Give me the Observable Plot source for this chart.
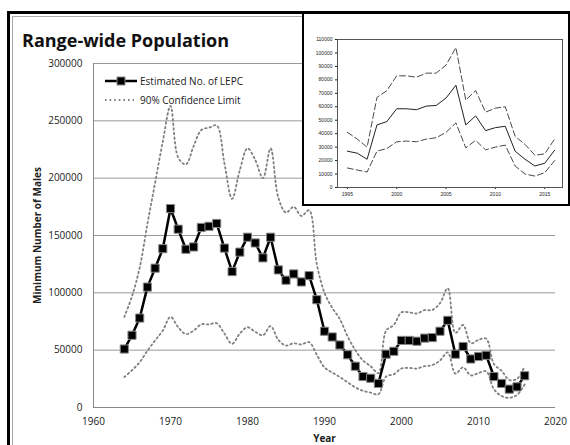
<!DOCTYPE html>
<html><head><meta charset="utf-8">
<script src="https://cdn.jsdelivr.net/npm/d3@7"></script>
<script src="https://cdn.jsdelivr.net/npm/@observablehq/plot@0.6"></script>
<style>
body{margin:0;background:#fff;}
#wrap{position:relative;width:570px;height:445px;overflow:hidden;background:#fff;font-family:"Open Sans",sans-serif;}
</style></head><body>
<div id="wrap">
  <div id="main" style="position:absolute;left:0;top:0"></div>
  <svg id="deco" width="570" height="445" style="position:absolute;left:0;top:0;overflow:visible"></svg>
  <div id="inset" style="position:absolute;left:302px;top:12px;width:264px;height:190px;border:2px solid #000;background:#fff"></div>
</div>
<script>
const title = "Range-wide Population";
const seriesLabels = ["Estimated No. of LEPC", "90% Confidence Limit"];
const xLabel = "Year";
const yLabel = "Minimum Number of Males";

const years = [1964,1965,1966,1967,1968,1969,1970,1971,1972,1973,1974,1975,1976,1977,1978,1979,
  1980,1981,1982,1983,1984,1985,1986,1987,1988,1989,1990,1991,1992,1993,1994,1995,1996,1997,1998,1999,
  2000,2001,2002,2003,2004,2005,2006,2007,2008,2009,2010,2011,2012,2013,2014,2015,2016];
const estimate = [51000,63000,78000,105000,121500,138500,173500,155500,138000,140000,157000,158000,160500,139000,118500,135500,
  148500,143500,130500,148500,120000,111000,116500,109500,115000,94000,66500,61500,54500,46000,36000,27000,25500,21000,46500,49000,
  58500,58500,57800,60500,61000,66500,76000,46500,53200,42300,44500,45500,27000,21000,16000,18000,27700];
const upper = [79000,97000,122000,160000,196000,232000,263000,218000,212000,228000,242000,244000,246000,213000,182000,207000,
  226000,216000,200000,226000,183000,170000,175000,167000,172000,125000,100000,87000,77000,62000,50000,41000,36000,30000,67000,72000,
  83000,83000,82000,85000,85000,91000,104000,65000,72000,56000,59000,60000,38000,32000,24000,25000,36000];
const lower = [26500,32500,39500,49500,58500,67000,79000,70000,64000,67000,72500,72500,73500,64500,55500,64500,
  70000,66000,63000,71000,59000,54000,56000,55000,57000,46000,35000,30500,26500,22000,17500,14500,13000,11500,27000,29000,
  34000,34500,34000,36000,37000,41000,48000,29500,35000,28000,30000,31500,16000,10000,8500,11000,20000];

const xTicks = [1960,1970,1980,1990,2000,2010,2020];
const yTicks = [0,50000,100000,150000,200000,250000,300000];
const insetStart = 1995;
const insetXTicks = [1995,2000,2005,2010,2015];
const insetYTicks = [0,10000,20000,30000,40000,50000,60000,70000,80000,90000,100000,110000];

const rows = years.map((year, i) => ({year, est: estimate[i], up: upper[i], lo: lower[i]}));
const insetRows = rows.filter(d => d.year >= insetStart);

const dotted = {curve: "catmull-rom", stroke: "#808080", strokeWidth: 1.8, strokeDasharray: "1.6 3"};

const main = Plot.plot({
  width: 570, height: 445,
  marginLeft: 93, marginRight: 15, marginTop: 63, marginBottom: 38,
  style: {background: "transparent", fontFamily: "Open Sans", fontSize: "10px", color: "#222"},
  x: {domain: [1960, 2020], ticks: xTicks, tickFormat: "d", tickSize: 0, tickPadding: 10,
      label: xLabel, labelAnchor: "center", labelArrow: "none", labelOffset: 34},
  y: {domain: [0, 300000], ticks: yTicks, tickFormat: "d", tickSize: 0, tickPadding: 11,
      label: yLabel, labelAnchor: "center", labelArrow: "none", labelOffset: 60},
  marks: [
    Plot.gridY(yTicks.filter(v => v > 0), {stroke: "#999", strokeOpacity: 1}),
    Plot.ruleY([0], {stroke: "#888"}),
    Plot.ruleX([1960], {stroke: "#888"}),
    Plot.line(rows, {x: "year", y: "up", ...dotted}),
    Plot.line(rows, {x: "year", y: "lo", ...dotted}),
    Plot.line(rows, {x: "year", y: "est", stroke: "#000", strokeWidth: 2.5}),
    Plot.dot(rows, {x: "year", y: "est", symbol: "square", r: 4.6, fill: "#000", stroke: "#888", strokeWidth: 1})
  ]
});
d3.select(main).selectAll('[aria-label$="axis label"] text, [aria-label$="axis label"]').attr("font-weight", "bold");
document.getElementById("main").appendChild(main);

// decoration: frames, title, legend
const deco = d3.select("#deco");
deco.append("rect").attr("x", 8.5).attr("y", 12.5).attr("width", 620).attr("height", 520)
  .attr("fill", "none").attr("stroke", "#000").attr("stroke-width", 3);
deco.append("rect").attr("x", 12.5).attr("y", 16.5).attr("width", 620).attr("height", 520)
  .attr("fill", "none").attr("stroke", "#aaa").attr("stroke-width", 1);
deco.append("text").attr("x", 22).attr("y", 47).text(title)
  .attr("font-family", "Open Sans").attr("font-weight", "bold").attr("font-size", 18).attr("fill", "#111");
// legend
const lg = deco.append("g");
lg.append("line").attr("x1", 105).attr("x2", 137).attr("y1", 81).attr("y2", 81).attr("stroke", "#000").attr("stroke-width", 2.5);
lg.append("rect").attr("x", 117).attr("y", 77).attr("width", 8).attr("height", 8).attr("fill", "#000").attr("stroke", "#888");
lg.append("text").attr("x", 140).attr("y", 84.5).text(seriesLabels[0]).attr("font-family", "Open Sans").attr("font-size", 10).attr("fill", "#222");
lg.append("line").attr("x1", 105).attr("x2", 134).attr("y1", 100).attr("y2", 100).attr("stroke", dotted.stroke).attr("stroke-width", dotted.strokeWidth).attr("stroke-dasharray", dotted.strokeDasharray);
lg.append("text").attr("x", 140).attr("y", 103.5).text(seriesLabels[1]).attr("font-family", "Open Sans").attr("font-size", 10).attr("fill", "#222");

const inset = Plot.plot({
  width: 264, height: 190,
  marginLeft: 33, marginRight: 6, marginTop: 25, marginBottom: 17,
  style: {background: "white", fontFamily: "Liberation Sans", fontSize: "5px", color: "#222"},
  x: {domain: [1994, 2016.8], ticks: insetXTicks, tickFormat: "d", tickSize: 2, tickPadding: 3, label: null},
  y: {domain: [0, 110000], ticks: insetYTicks, tickFormat: "d", tickSize: 2, tickPadding: 3, label: null},
  marks: [
    Plot.frame({stroke: "#555"}),
    Plot.line(insetRows, {x: "year", y: "up", stroke: "#333", strokeWidth: 0.9, strokeDasharray: "6 3"}),
    Plot.line(insetRows, {x: "year", y: "lo", stroke: "#333", strokeWidth: 0.9, strokeDasharray: "6 3"}),
    Plot.line(insetRows, {x: "year", y: "est", stroke: "#222", strokeWidth: 1})
  ]
});
document.getElementById("inset").appendChild(inset);
</script>
</body></html>
